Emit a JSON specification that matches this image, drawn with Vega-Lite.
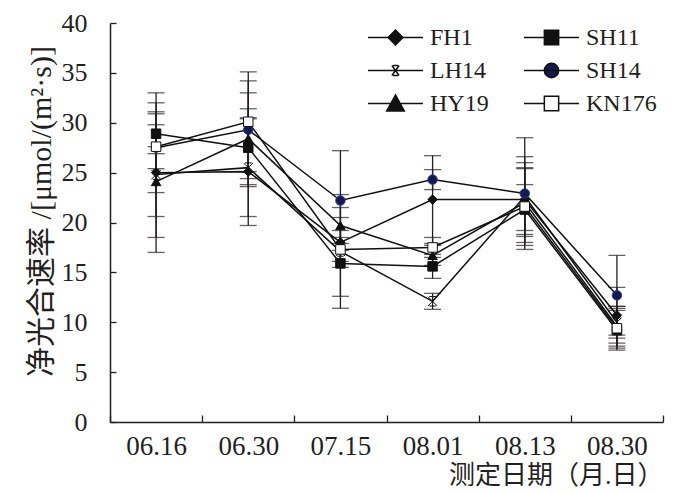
{
  "$schema": "https://vega.github.io/schema/vega-lite/v6.json",
  "width": 553,
  "height": 399,
  "autosize": "none",
  "padding": {"left": 110, "top": 23, "right": 29, "bottom": 72},
  "config": {
    "view": {"stroke": null},
    "font": "Liberation Serif",
    "axis": {
      "domainColor": "#231f20",
      "domainWidth": 1.5,
      "tickColor": "#231f20",
      "tickWidth": 1.3,
      "labelColor": "#231f20",
      "labelFont": "Liberation Serif",
      "titleColor": "#231f20",
      "titleFont": "Liberation Serif, Noto Sans CJK SC",
      "titleFontWeight": "normal",
      "grid": false
    },
    "legend": {
      "orient": "none",
      "legendX": 257,
      "legendY": -2,
      "columns": 2,
      "columnPadding": 34,
      "rowPadding": 0,
      "padding": 0,
      "clipHeight": 33,
      "symbolSize": 3025,
      "symbolStrokeWidth": 1.5,
      "labelFont": "Liberation Serif",
      "labelFontSize": 24,
      "labelColor": "#231f20",
      "labelOffset": 6
    }
  },
  "data": {
    "values": [
      {"series": "FH1", "date": "06.16", "v": 25.0, "lo": 17.0, "hi": 33.0},
      {"series": "FH1", "date": "06.30", "v": 25.1, "lo": 19.7, "hi": 30.5},
      {"series": "FH1", "date": "07.15", "v": 18.0, "lo": 15.5, "hi": 20.5},
      {"series": "FH1", "date": "08.01", "v": 22.3, "lo": 17.9, "hi": 26.7},
      {"series": "FH1", "date": "08.13", "v": 22.3, "lo": 18.0, "hi": 26.6},
      {"series": "FH1", "date": "08.30", "v": 10.7, "lo": 7.9, "hi": 13.5},
      {"series": "SH11", "date": "06.16", "v": 28.9, "lo": 26.9, "hi": 30.9},
      {"series": "SH11", "date": "06.30", "v": 27.5, "lo": 23.6, "hi": 31.4},
      {"series": "SH11", "date": "07.15", "v": 15.9, "lo": 12.6, "hi": 19.2},
      {"series": "SH11", "date": "08.01", "v": 15.6, "lo": 14.4, "hi": 16.8},
      {"series": "SH11", "date": "08.13", "v": 21.3, "lo": 18.8, "hi": 23.8},
      {"series": "SH11", "date": "08.30", "v": 9.2, "lo": 7.2, "hi": 11.2},
      {"series": "LH14", "date": "06.16", "v": 24.8, "lo": 18.5, "hi": 31.1},
      {"series": "LH14", "date": "06.30", "v": 25.5, "lo": 20.6, "hi": 30.4},
      {"series": "LH14", "date": "07.15", "v": 17.1, "lo": 11.4, "hi": 22.8},
      {"series": "LH14", "date": "08.01", "v": 12.1, "lo": 11.3, "hi": 12.9},
      {"series": "LH14", "date": "08.13", "v": 22.6, "lo": 19.2, "hi": 26.0},
      {"series": "LH14", "date": "08.30", "v": 10.0, "lo": 8.4, "hi": 11.6},
      {"series": "SH14", "date": "06.16", "v": 27.5, "lo": 23.0, "hi": 32.0},
      {"series": "SH14", "date": "06.30", "v": 29.3, "lo": 24.4, "hi": 34.2},
      {"series": "SH14", "date": "07.15", "v": 22.2, "lo": 17.2, "hi": 27.2},
      {"series": "SH14", "date": "08.01", "v": 24.3, "lo": 23.3, "hi": 25.3},
      {"series": "SH14", "date": "08.13", "v": 22.9, "lo": 17.3, "hi": 28.5},
      {"series": "SH14", "date": "08.30", "v": 12.7, "lo": 8.7, "hi": 16.7},
      {"series": "HY19", "date": "06.16", "v": 24.1, "lo": 20.6, "hi": 27.6},
      {"series": "HY19", "date": "06.30", "v": 28.4, "lo": 23.8, "hi": 33.0},
      {"series": "HY19", "date": "07.15", "v": 19.7, "lo": 17.9, "hi": 21.5},
      {"series": "HY19", "date": "08.01", "v": 16.7, "lo": 15.7, "hi": 17.7},
      {"series": "HY19", "date": "08.13", "v": 22.0, "lo": 18.6, "hi": 25.4},
      {"series": "HY19", "date": "08.30", "v": 9.6, "lo": 7.6, "hi": 11.6},
      {"series": "KN176", "date": "06.16", "v": 27.6, "lo": 25.4, "hi": 29.8},
      {"series": "KN176", "date": "06.30", "v": 30.1, "lo": 25.1, "hi": 35.1},
      {"series": "KN176", "date": "07.15", "v": 17.3, "lo": 16.1, "hi": 18.5},
      {"series": "KN176", "date": "08.01", "v": 17.5, "lo": 16.5, "hi": 18.5},
      {"series": "KN176", "date": "08.13", "v": 21.6, "lo": 17.7, "hi": 25.5},
      {"series": "KN176", "date": "08.30", "v": 9.4, "lo": 7.4, "hi": 11.4}
    ]
  },
  "encoding": {
    "x": {
      "field": "date",
      "type": "ordinal",
      "scale": {"type": "band", "paddingInner": 0, "paddingOuter": 0},
      "axis": {
        "title": "测定日期（月.日）",
        "titleAnchor": "end",
        "titleFontSize": 26,
        "titlePadding": 3,
        "labelFontSize": 27,
        "labelAngle": 0,
        "labelPadding": 18,
        "tickBand": "extent",
        "tickSize": -7
      }
    }
  },
  "layer": [
    {
      "mark": {"type": "rule", "color": "#231f20", "strokeWidth": 1.3},
      "encoding": {
        "y": {
          "field": "lo",
          "type": "quantitative",
          "title": "净光合速率 /[μmol/(m²·s)]",
          "scale": {"domain": [0, 40]},
          "axis": {
            "values": [0, 5, 10, 15, 20, 25, 30, 35, 40],
            "labelFontSize": 26,
            "labelPadding": 29,
            "tickSize": -6,
            "titleFontSize": 30,
            "titlePadding": 5,
            "titleY": 188
          }
        },
        "y2": {"field": "hi"}
      }
    },
    {
      "mark": {"type": "tick", "color": "#231f20", "size": 17, "thickness": 1.3},
      "encoding": {
        "y": {"field": "lo", "type": "quantitative", "title": "净光合速率 /[μmol/(m²·s)]"}
      }
    },
    {
      "mark": {"type": "tick", "color": "#231f20", "size": 17, "thickness": 1.3},
      "encoding": {
        "y": {"field": "hi", "type": "quantitative", "title": "净光合速率 /[μmol/(m²·s)]"}
      }
    },
    {
      "mark": {"type": "line", "color": "#111111", "strokeWidth": 1.5},
      "encoding": {
        "y": {"field": "v", "type": "quantitative", "title": "净光合速率 /[μmol/(m²·s)]"},
        "detail": {"field": "series"}
      }
    },
    {
      "mark": {"type": "point", "filled": true, "size": 90, "opacity": 1, "strokeWidth": 1},
      "encoding": {
        "y": {"field": "v", "type": "quantitative", "title": "净光合速率 /[μmol/(m²·s)]"},
        "shape": {
          "field": "series",
          "type": "nominal",
          "legend": null,
          "scale": {
            "domain": ["FH1", "LH14", "HY19", "SH11", "SH14", "KN176"],
            "range": ["diamond", "M-1,-1L1,1M1,-1L-1,1M-0.7,-1H0.7M-0.7,1H0.7", "triangle-up", "square", "circle", "square"]
          }
        },
        "fill": {
          "field": "series",
          "type": "nominal",
          "legend": null,
          "scale": {
            "domain": ["FH1", "LH14", "HY19", "SH11", "SH14", "KN176"],
            "range": ["#111111", "transparent", "#111111", "#111111", "#15194d", "#ffffff"]
          }
        },
        "stroke": {
          "field": "series",
          "type": "nominal",
          "legend": null,
          "scale": {
            "domain": ["FH1", "LH14", "HY19", "SH11", "SH14", "KN176"],
            "range": ["#111111", "#111111", "#111111", "#111111", "#2b3a9a", "#111111"]
          }
        }
      }
    },
    {
      "transform": [{"filter": "datum.v < 0"}],
      "mark": {"type": "point", "filled": true, "opacity": 1, "strokeWidth": 1.5},
      "encoding": {
        "y": {"field": "v", "type": "quantitative", "title": "净光合速率 /[μmol/(m²·s)]"},
        "shape": {
          "field": "series",
          "type": "nominal",
          "scale": {
            "domain": ["FH1", "LH14", "HY19", "SH11", "SH14", "KN176"],
            "range": [
              "M-1,0H1M0,-0.27L0.27,0L0,0.27L-0.27,0Z",
              "M-1,0H1M-0.13,-0.18L0.13,0.18M0.13,-0.18L-0.13,0.18M-0.09,-0.18H0.09M-0.09,0.18H0.09",
              "M-1,0H1M0,-0.31L0.32,0.27L-0.32,0.27Z",
              "M-1,0H1M-0.26,-0.26H0.26V0.26H-0.26Z",
              "M-1,0H1M0.26,0A0.26,0.26,0,1,1,-0.26,0A0.26,0.26,0,1,1,0.26,0Z",
              "M-1,0H-0.26M0.26,0H1M-0.26,-0.26H0.26V0.26H-0.26Z"
            ]
          },
          "legend": {"title": null}
        },
        "fill": {
          "field": "series",
          "type": "nominal",
          "scale": {
            "domain": ["FH1", "LH14", "HY19", "SH11", "SH14", "KN176"],
            "range": ["#111111", "transparent", "#111111", "#111111", "#15194d", "#ffffff"]
          },
          "legend": {"title": null}
        },
        "stroke": {
          "field": "series",
          "type": "nominal",
          "scale": {
            "domain": ["FH1", "LH14", "HY19", "SH11", "SH14", "KN176"],
            "range": ["#111111", "#111111", "#111111", "#111111", "#111111", "#111111"]
          },
          "legend": {"title": null}
        }
      }
    }
  ],
  "resolve": {"scale": {"shape": "independent", "fill": "independent", "stroke": "independent"}}
}
